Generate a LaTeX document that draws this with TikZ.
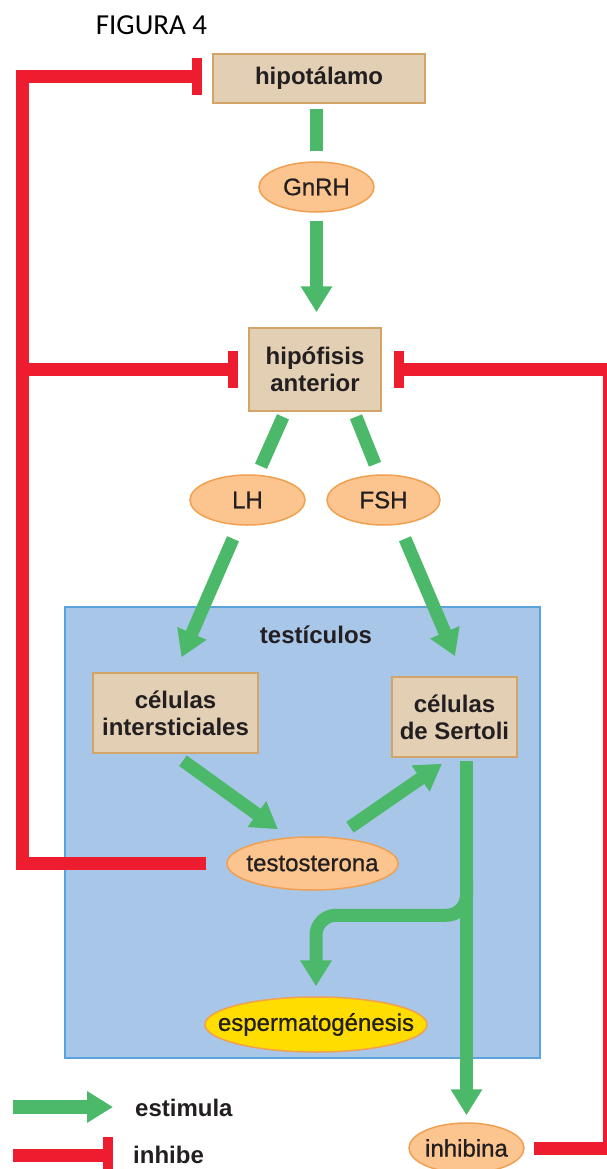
\documentclass[tikz,border=0pt]{standalone}
\usepackage{fontspec}
\setmainfont{Liberation Sans}
\newfontfamily\figfont{Carlito}
\newfontfamily\medfont[FakeBold=0.8]{Liberation Sans}
\usetikzlibrary{arrows.meta,shapes.geometric}
\definecolor{boxfill}{HTML}{E3CFB4}
\definecolor{boxline}{HTML}{D3A468}
\definecolor{ellfill}{HTML}{FCC48E}
\definecolor{ellline}{HTML}{F0A050}
\definecolor{yelfill}{HTML}{FFDD00}
\definecolor{blufill}{HTML}{A8C6E8}
\definecolor{bluline}{HTML}{5BA3DC}
\definecolor{grn}{HTML}{4BB969}
\definecolor{rd}{HTML}{ED1C2E}
\definecolor{txt}{HTML}{231F20}
\newcommand\zw[1]{\makebox[0pt]{#1}}
\begin{document}
\begin{tikzpicture}[x=1pt,y=-1pt,
  font=\fontsize{24}{27}\selectfont, text=txt,
  organ/.style={draw=boxline, fill=boxfill, line width=1.5pt, inner sep=0pt, align=center, font=\fontsize{24}{27}\selectfont\bfseries},
  horm/.style={ellipse, draw=ellline, fill=ellfill, line width=1.5pt, inner sep=0pt, font=\medfont\fontsize{24}{27}\selectfont},
  lbl/.style={inner sep=0pt, font=\fontsize{24}{27}\selectfont\bfseries},
  stim/.style={draw=grn, line width=13pt},
  stimarr/.style={stim, -{Triangle[length=26pt,width=30pt]}},
  inh/.style={draw=rd, line width=13pt, line join=miter, -{Rectangle[length=10pt,width=37pt]}},
]
\useasboundingbox (0,0) rectangle (607,1169);
\fill[white] (0,0) rectangle (607,1169);

% title
\node[font=\figfont\fontsize{29}{30}\selectfont, text=black, inner sep=0pt] (title) at (151.5,25) {FIGURA 4};

% testes region
\node[draw=bluline, fill=blufill, line width=1.5pt, minimum width=475pt, minimum height=451pt, inner sep=0pt] (testis) at (302.5,832.5) {};
\node[lbl, anchor=base] (testlbl) at (316,643) {testículos};

% organs
\node[organ, minimum width=212pt, minimum height=49pt] (hipot) at (319,78.5) {hipotálamo};
\node[organ, minimum width=132pt, minimum height=83pt] (hipof) at (315,369.5) {hipófisis\\anterior};
\node[organ, minimum width=165pt, minimum height=80pt] (inter) at (175.5,713) {células\\intersticiales};
\node[organ, minimum width=125pt, minimum height=80pt] (sert) at (454.5,717) {células\\de Sertoli};

% hormones
\node[horm, minimum width=115pt, minimum height=50pt] (gnrh) at (316.5,187) {\zw{GnRH}};
\node[horm, minimum width=115pt, minimum height=50pt] (lh) at (247.5,500) {\zw{LH}};
\node[horm, minimum width=113pt, minimum height=50pt] (fsh) at (383.5,500) {\zw{FSH}};
\node[horm, minimum width=171pt, minimum height=53pt] (testo) at (312.5,863.5) {\zw{testosterona}};
\node[horm, fill=yelfill, minimum width=222pt, minimum height=55pt] (esp) at (316,1024.5) {\zw{espermatogénesis}};
\node[horm, minimum width=115pt, minimum height=50pt] (inhib) at (466.5,1148) {\zw{inhibina}};

% stimulating connectors
\draw[stim, shorten <=5pt, shorten >=10pt] (hipot.south -| gnrh.north) -- (gnrh.north);
\draw[stimarr, shorten <=8pt, shorten >=15pt] (gnrh.south) -- (hipof.north -| gnrh.south);
\draw[stim] ([xshift=-32pt,yshift=-5pt]hipof.south) -- ([xshift=13.5pt,yshift=8pt]lh.north);
\draw[stim] ([xshift=41pt,yshift=-5pt]hipof.south) -- ([xshift=-8.5pt,yshift=10pt]fsh.north);
\draw[stimarr] ([xshift=-14.5pt,yshift=-13pt]lh.south) -- ([xshift=6pt,yshift=15pt]inter.north);
\draw[stimarr] ([xshift=21.5pt,yshift=-13pt]fsh.south) -- ([xshift=0.5pt,yshift=20pt]sert.north);
\draw[stimarr] ([xshift=7.5pt,yshift=-7pt]inter.south) -- ([xshift=-34.5pt,yshift=7pt]testo.north);
\draw[stimarr] ([xshift=37.5pt,yshift=9pt]testo.north) -- ([xshift=-12.5pt,yshift=-6pt]sert.south);
\draw[stimarr, shorten <=3pt, shorten >=7pt] (sert.south -| inhib.north) -- (inhib.north);
\coordinate (brA) at (466.5,880);
\draw[stimarr, rounded corners=20pt, shorten >=10pt] (brA) |- ([yshift=81pt]esp.north) -- (esp.north);

% inhibiting connectors
\coordinate (lc) at (22,77);
\coordinate (rc) at (609,369.5);
\draw[inh, shorten <=20pt, shorten >=10pt] (testo.west) -| (lc) -- (hipot.west |- lc);
\draw[inh, shorten >=10pt] (lc |- hipof.west) -- (hipof.west);
\draw[inh, shorten <=9pt, shorten >=12pt] (inhib.east) -| (rc) -- (hipof.east);

% legend
\coordinate (lgA) at (13,1107);
\coordinate (lgB) at (113,1107);
\coordinate (lgC) at (13,1155);
\coordinate (lgD) at (113,1155);
\draw[stimarr, line width=14pt] (lgA) -- (lgB);
\draw[inh] (lgC) -- (lgD);
\node[lbl, anchor=west] (lgs) at (135,1108) {estimula};
\node[lbl, anchor=west] (lgi) at (133,1155) {inhibe};
\end{tikzpicture}
\end{document}
